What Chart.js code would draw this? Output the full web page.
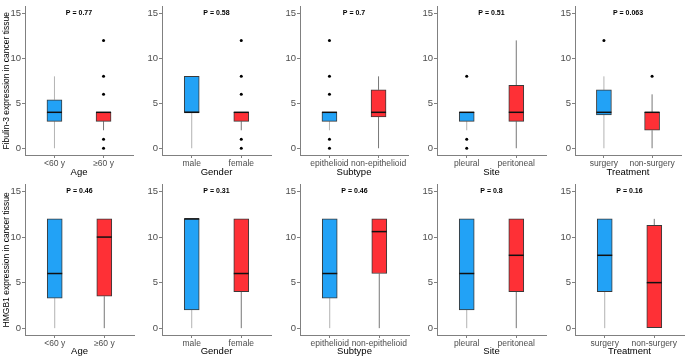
<!DOCTYPE html>
<html>
<head>
<meta charset="utf-8">
<script src="https://cdn.jsdelivr.net/npm/chart.js@4.4.1/dist/chart.umd.min.js"></script>
<style>
  html, body { margin: 0; padding: 0; background: #fff; }
  #wrap { position: relative; width: 685px; height: 357px; overflow: hidden; }
  #wrap canvas { position: absolute; }
</style>
</head>
<body>
<div id="wrap"></div>
<script>
// categories per panel
const groups = [
  ['<60 y', '≥60 y'],
  ['male', 'female'],
  ['epithelioid', 'non-epithelioid'],
  ['pleural', 'peritoneal'],
  ['surgery', 'non-surgery']
];
const axisTitles = ['Age', 'Gender', 'Subtype', 'Site', 'Treatment'];

// [lower whisker, q1, median, q3, upper whisker] for each group
const fibulinStats = [
  [[0, 3, 4, 5.4, 8], [2, 3, 4, 4, 4]],
  [[0, 4, 4, 8, 8], [2, 3, 4, 4, 4]],
  [[2, 3, 4, 4, 4], [0, 3.5, 4, 6.5, 8]],
  [[2, 3, 4, 4, 4], [0, 3, 4, 7, 12]],
  [[0, 3.7, 4, 6.5, 8], [0, 2, 4, 4, 6]]
];
const fibulinOutliers = [
  [[], [12, 8, 6, 1, 0]],
  [[], [12, 8, 6, 1, 0]],
  [[12, 8, 6, 1, 0], []],
  [[8, 1, 0], []],
  [[12], [8]]
];
const fibulinP = ['0.77', '0.58', '0.7', '0.51', '0.063'];

const hmgbStats = [
  [[0, 3.3, 6, 12, 12], [0, 3.5, 10, 12, 12]],
  [[0, 2, 12, 12, 12], [0, 4, 6, 12, 12]],
  [[0, 3.3, 6, 12, 12], [0, 6, 10.6, 12, 12]],
  [[0, 2, 6, 12, 12], [0, 4, 8, 12, 12]],
  [[0, 4, 8, 12, 12], [0, 0, 5, 11.3, 12]]
];
const hmgbOutliers = [
  [[], []], [[], []], [[], []], [[], []], [[], []]
];
const hmgbP = ['0.46', '0.31', '0.46', '0.8', '0.16'];

const rowTitles = ['Fibulin-3 expression in cancer tissue', 'HMGB1 expression in cancer tissue'];
const yTicks = [0, 5, 10, 15];

const boxColors = ['#22a2f6', '#fe3036'];
const whiskerColors = ['#b3b3b3', '#777777'];

Chart.defaults.font.family = '"Liberation Sans", Arial, sans-serif';

const boxExtras = {
  id: 'boxExtras',
  afterDatasetsDraw(chart, args, opts) {
    const {ctx, scales: {x, y}} = chart;
    const meta = chart.getDatasetMeta(0);
    ctx.save();
    ctx.strokeStyle = '#111';
    ctx.lineWidth = 1.5;
    meta.data.forEach((bar, i) => {
      const py = y.getPixelForValue(opts.medians[i]);
      ctx.beginPath();
      ctx.moveTo(bar.x - bar.width / 2, py);
      ctx.lineTo(bar.x + bar.width / 2, py);
      ctx.stroke();
    });
    ctx.font = 'bold 7px "Liberation Sans", Arial, sans-serif';
    ctx.textAlign = 'center';
    ctx.textBaseline = 'middle';
    ctx.fillStyle = '#000';
    ctx.fillText('P = ' + opts.p, x.getPixelForValue(1.5), y.getPixelForValue(15));
    ctx.restore();
  }
};

const lefts = [0, 137, 275, 412, 550];
const widths = [137, 138, 137, 138, 135];
const rows = [
  {top: 0, height: 178, padTop: 1.5, xHeight: 23, stats: fibulinStats, outliers: fibulinOutliers, p: fibulinP},
  {top: 178, height: 179, padTop: 4, xHeight: 22, stats: hmgbStats, outliers: hmgbOutliers, p: hmgbP}
];

function makePanel(row, rowIdx, col) {
  const canvas = document.createElement('canvas');
  canvas.width = widths[col];
  canvas.height = row.height;
  canvas.style.left = lefts[col] + 'px';
  canvas.style.top = row.top + 'px';
  document.getElementById('wrap').appendChild(canvas);

  const stats = row.stats[col];
  const outl = row.outliers[col];
  const labels = groups[col];

  const datasets = [{
    type: 'bar',
    data: stats.map((s, i) => ({x: i + 1, y: [s[1], s[3]]})),
    backgroundColor: boxColors,
    borderColor: '#3a3a3a',
    borderWidth: 1,
    borderSkipped: false,
    barThickness: 15,
    order: 1
  }];

  stats.forEach((s, i) => {
    datasets.push({
      type: 'line',
      data: [
        {x: i + 1, y: s[0]}, {x: i + 1, y: s[1]}, {x: i + 1, y: null},
        {x: i + 1, y: s[3]}, {x: i + 1, y: s[4]}
      ],
      borderColor: whiskerColors[i],
      borderWidth: 1,
      pointRadius: 0,
      spanGaps: false,
      order: 2
    });
  });

  datasets.push({
    type: 'scatter',
    data: outl.flatMap((vals, i) => vals.map(v => ({x: i + 1, y: v}))),
    backgroundColor: '#000',
    borderWidth: 0,
    pointRadius: 1.5,
    order: 0
  });

  new Chart(canvas.getContext('2d'), {
    type: 'bar',
    data: {datasets},
    plugins: [boxExtras],
    options: {
      responsive: false,
      animation: false,
      devicePixelRatio: 1,
      layout: {padding: {top: row.padTop, right: widths[col] - 134, left: 0, bottom: 0}},
      plugins: {
        legend: {display: false},
        tooltip: {enabled: false},
        boxExtras: {medians: stats.map(s => s[2]), p: row.p[col]}
      },
      scales: {
        x: {
          type: 'linear',
          min: 0.4,
          max: 2.6,
          offset: false,
          afterBuildTicks: s => { s.ticks = [{value: 1}, {value: 2}]; },
          afterFit: s => { s.height = row.xHeight; },
          ticks: {
            autoSkip: false,
            maxRotation: 0,
            padding: 1,
            color: '#4d4d4d',
            font: {size: 8.5},
            callback: v => labels[v - 1]
          },
          grid: {drawOnChartArea: false, drawTicks: true, tickLength: 3, color: '#808080', offset: false},
          border: {color: '#808080', width: 1},
          title: {display: true, text: axisTitles[col], color: '#000', font: {size: 9.5}, padding: 0}
        },
        y: {
          min: -0.75,
          max: 15.75,
          afterBuildTicks: s => { s.ticks = yTicks.map(v => ({value: v})); },
          afterFit: s => { s.width = 25; },
          ticks: {color: '#4d4d4d', font: {size: 9.5}, padding: 1},
          grid: {drawOnChartArea: false, drawTicks: true, tickLength: 3, color: '#808080'},
          border: {color: '#808080', width: 1},
          title: {
            display: col === 0,
            text: rowTitles[rowIdx],
            color: '#000',
            font: {size: 8.5},
            padding: {top: 1.5, bottom: 0}
          }
        }
      }
    }
  });
}

rows.forEach((row, r) => {
  for (let c = 0; c < 5; c++) makePanel(row, r, c);
});
</script>
</body>
</html>
